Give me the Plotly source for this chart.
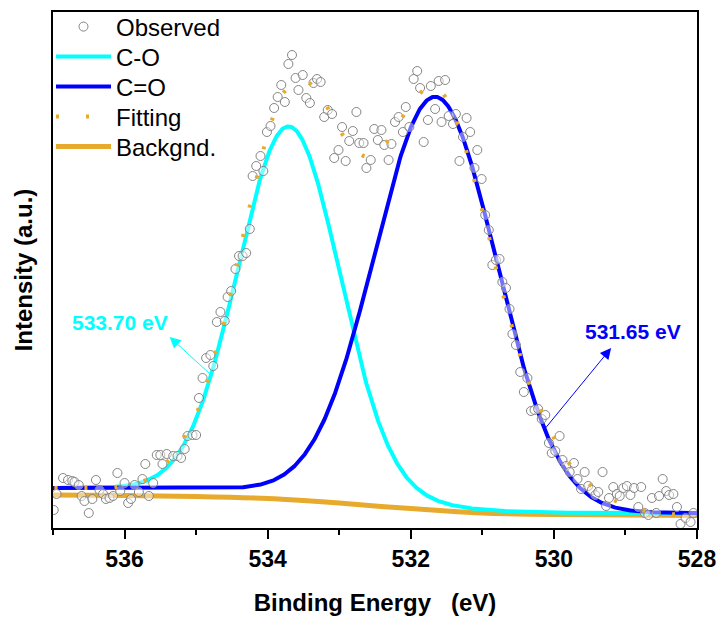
import numpy as np
import plotly.graph_objects as go

# O 1s region: observed counts (binding energy in eV, intensity in a.u.)
obs_ev = [536.99, 536.95, 536.86, 536.79, 536.73, 536.70, 536.64, 536.60, 536.56, 536.50,
          536.45, 536.40, 536.35, 536.30, 536.26, 536.21, 536.16, 536.10, 536.06, 536.00,
          535.95, 535.91, 535.86, 535.80, 535.75, 535.71, 535.66, 535.60, 535.55, 535.50,
          535.47, 535.41, 535.32, 535.26, 535.21, 535.16, 535.12, 535.05, 535.00, 534.96,
          534.91, 534.86, 534.80, 534.76, 534.71, 534.66, 534.60, 534.56, 534.51, 534.45,
          534.40, 534.35, 534.30, 534.25, 534.21, 534.16, 534.10, 534.06, 534.01, 533.96,
          533.91, 533.86, 533.81, 533.76, 533.71, 533.66, 533.61, 533.57, 533.51, 533.46,
          533.41, 533.36, 533.31, 533.26, 533.21, 533.16, 533.10, 533.07, 533.01, 532.96,
          532.91, 532.86, 532.81, 532.76, 532.72, 532.66, 532.62, 532.56, 532.51, 532.46,
          532.41, 532.37, 532.31, 532.27, 532.22, 532.17, 532.11, 532.07, 532.02, 531.96,
          531.91, 531.87, 531.82, 531.76, 531.72, 531.66, 531.61, 531.57, 531.52, 531.47,
          531.41, 531.37, 531.32, 531.27, 531.22, 531.17, 531.11, 531.07, 531.01, 530.96,
          530.91, 530.86, 530.81, 530.76, 530.72, 530.67, 530.62, 530.58, 530.53, 530.47,
          530.42, 530.37, 530.32, 530.27, 530.22, 530.17, 530.12, 530.07, 530.03, 529.98,
          529.92, 529.88, 529.83, 529.78, 529.72, 529.67, 529.62, 529.57, 529.52, 529.47,
          529.42, 529.38, 529.32, 529.27, 529.23, 529.17, 529.12, 529.08, 529.03, 528.98,
          528.93, 528.88, 528.82, 528.78, 528.73, 528.68, 528.63, 528.57, 528.53, 528.48,
          528.43, 528.39, 528.33, 528.28, 528.23, 528.16, 528.09, 528.05]
obs_int = [18, 34, 50, 48, 47, 46, 43, 32, 27, 15,
           29, 48, 38, 34, 29, 30, 32, 55, 37, 45,
           25, 29, 43, 36, 49, 64, 32, 45, 73, 73,
           64, 74, 72, 72, 70, 79, 92, 93, 93, 130,
           150, 170, 173, 162, 206, 216, 207, 231, 237, 259,
           272, 272, 275, 299, 352, 362, 372, 357, 396, 402,
           420, 431, 443, 426, 464, 473, 450, 438, 453, 430,
           425, 445, 449, 446, 411, 418, 414, 370, 378, 401,
           367, 387, 397, 416, 385, 385, 360, 368, 399, 388,
           398, 383, 368, 384, 406, 411, 396, 421, 401, 449,
           457, 440, 386, 408, 442, 419, 447, 406, 448, 412,
           404, 414, 367, 391, 410, 396, 360, 378, 349, 313,
           298, 263, 268, 269, 246, 240, 219, 194, 183, 156,
           136, 150, 117, 118, 119, 109, 113, 85, 75, 77,
           92, 68, 62, 56, 65, 49, 39, 56, 42, 38,
           33, 36, 56, 22, 30, 41, 34, 32, 40, 42,
           33, 40, 21, 41, 15, 13, 30, 15, 32, 49,
           37, 33, 34, 21, 4, 10, 6, 15]

# Fitted envelope
fit_ev = [536.98, 536.56, 536.13, 535.73, 535.43, 535.18, 534.98, 534.85, 534.73, 534.61,
          534.52, 534.43, 534.34, 534.25, 534.15, 534.05, 533.93, 533.77, 533.60, 533.44,
          533.17, 532.97, 532.80, 532.61, 532.45, 532.29, 532.07, 531.80, 531.65, 531.47,
          531.31, 531.19, 531.08, 530.97, 530.87, 530.78, 530.66, 530.55, 530.43, 530.30,
          530.12, 529.94, 529.72, 529.38, 528.98, 528.57, 528.07]
fit_int = [40, 40, 41, 47, 64, 89, 117, 146, 175, 205,
           234, 264, 293, 322, 351, 381, 410, 436, 445, 446,
           421, 395, 380, 371, 378, 390, 416, 439, 442, 425,
           397, 368, 339, 309, 280, 251, 221, 192, 163, 135.5,
           108.7, 82, 58.7, 37, 22.3, 15.3, 13]

# Background
bg_ev = [537.0, 536.0, 535.0, 534.0, 533.5, 533.0, 532.5, 532.0, 531.5, 531.0, 530.5, 530.0, 529.0, 528.0]
bg_int = [33, 32.5, 31.5, 29.5, 27.5, 25, 22, 19.5, 17, 15, 14, 13.5, 13, 12.5]

# Fitted component parameters: centre (eV), height (a.u.), sigma (eV)
peak_names = ["C-O", "C=O"]
peak_centers = [533.70, 531.65]
peak_heights = [367, 409]
peak_sigmas = [0.712, 0.852]
comp_base_high, comp_base_low = 40, 15   # component baseline at high / low BE side

CYAN = "#00FFFF"
BLUE = "#0000FF"
ORANGE = "#E8AA2C"
FONT = "Liberation Sans, Arial, sans-serif"

# Evaluate the component lineshapes on a fine energy grid
E = np.linspace(537, 528, 901)
gauss = [h * np.exp(-0.5 * ((E - c) / s) ** 2)
         for c, h, s in zip(peak_centers, peak_heights, peak_sigmas)]
# Shirley-type step: baseline rises with the peak area lying at lower binding energy
total = gauss[0] + gauss[1]
cum = np.cumsum(total[::-1])[::-1]
frac = cum / cum[0]
comp_base = comp_base_low + (comp_base_high - comp_base_low) * frac
components = [comp_base + g for g in gauss]


def comp_at(i, e):
    return float(np.interp(e, E[::-1], components[i][::-1]))


fig = go.Figure()

# one single-entry legend per trace, stacked at fixed rows
legend_rows = {"Observed": 0, "C-O": 1, "C=O": 2, "Fitting": 3, "Backgnd.": 4}
legend_ids = ["legend", "legend2", "legend3", "legend4", "legend5"]


def lg(name):
    return legend_ids[legend_rows[name]]


fig.add_trace(go.Scatter(
    x=bg_ev, y=bg_int, mode="lines", name="Backgnd.", legend=lg("Backgnd."),
    line=dict(color=ORANGE, width=5, shape="spline")))

fig.add_trace(go.Scatter(
    x=E, y=components[0], mode="lines", name=peak_names[0], legend=lg(peak_names[0]),
    line=dict(color=CYAN, width=4)))
fig.add_trace(go.Scatter(
    x=E, y=components[1], mode="lines", name=peak_names[1], legend=lg(peak_names[1]),
    line=dict(color=BLUE, width=4)))

fig.add_trace(go.Scatter(
    x=obs_ev, y=obs_int, mode="markers", name="Observed", legend=lg("Observed"),
    marker=dict(symbol="circle", size=9, color="rgba(255,255,255,0.45)",
                line=dict(color="#858585", width=1))))

fig.add_trace(go.Scatter(
    x=fit_ev, y=fit_int, mode="lines", name="Fitting", legend=lg("Fitting"),
    line=dict(color=ORANGE, width=4, dash="3px,27px", shape="spline")))

# Peak position labels with arrows pointing from the curves
label_specs = [
    dict(text="533.70 eV", color=CYAN, tx=536.07, ty=206, head=(535.37, 191), tail_e=534.79, idx=0),
    dict(text="531.65 eV", color=BLUE, tx=528.90, ty=197, head=(529.20, 180), tail_e=530.13, idx=1),
]
for spec in label_specs:
    fig.add_annotation(
        x=spec["head"][0], y=spec["head"][1],
        ax=spec["tail_e"], ay=comp_at(spec["idx"], spec["tail_e"]),
        xref="x", yref="y", axref="x", ayref="y",
        text="", showarrow=True, arrowhead=2, arrowsize=2.2, arrowwidth=1,
        arrowcolor=spec["color"], standoff=0, startstandoff=0)
    fig.add_annotation(
        x=spec["tx"], y=spec["ty"], xref="x", yref="y", text=spec["text"],
        showarrow=False, font=dict(family=FONT, size=21, color=spec["color"], weight="bold"))

W, H = 722, 619
PLOT_TOP, PLOT_H, PLOT_W = 12, 516, 644
legend_style = dict(x=-2 / PLOT_W, xanchor="left", yanchor="middle", bgcolor="rgba(0,0,0,0)",
                    font=dict(family=FONT, size=24, color="black"), itemwidth=55)
layout_legends = {}
for i, lid in enumerate(legend_ids):
    mid_px = 27 + 30 * i
    layout_legends[lid] = dict(legend_style, y=(PLOT_TOP + PLOT_H - mid_px) / PLOT_H)

fig.update_layout(
    width=W, height=H,
    margin=dict(l=53, r=25, t=12, b=91, autoexpand=False),
    paper_bgcolor="white", plot_bgcolor="white",
    font=dict(family=FONT, color="black"),
    showlegend=True,
    **layout_legends,
)

fig.update_xaxes(
    range=[537, 528], tick0=528, dtick=2, ticks="outside", ticklen=9, tickwidth=2,
    tickcolor="black", showline=True, linewidth=2, linecolor="black", mirror=True,
    showgrid=False, zeroline=False, automargin=False,
    tickfont=dict(family=FONT, size=23, color="black", weight="bold"),
    minor=dict(dtick=1, ticks="outside", ticklen=5, tickwidth=2, tickcolor="black", showgrid=False),
    title=dict(text="Binding Energy   (eV)", standoff=24,
               font=dict(family=FONT, size=24, color="black", weight="bold")),
)
fig.update_yaxes(
    range=[0, 516], showticklabels=False, ticks="", showline=True, linewidth=2,
    linecolor="black", mirror=True, showgrid=False, zeroline=False, automargin=False,
    title=dict(text="Intensity (a.u.)", standoff=12,
               font=dict(family=FONT, size=24, color="black", weight="bold")),
)

fig.write_html("out.html")
